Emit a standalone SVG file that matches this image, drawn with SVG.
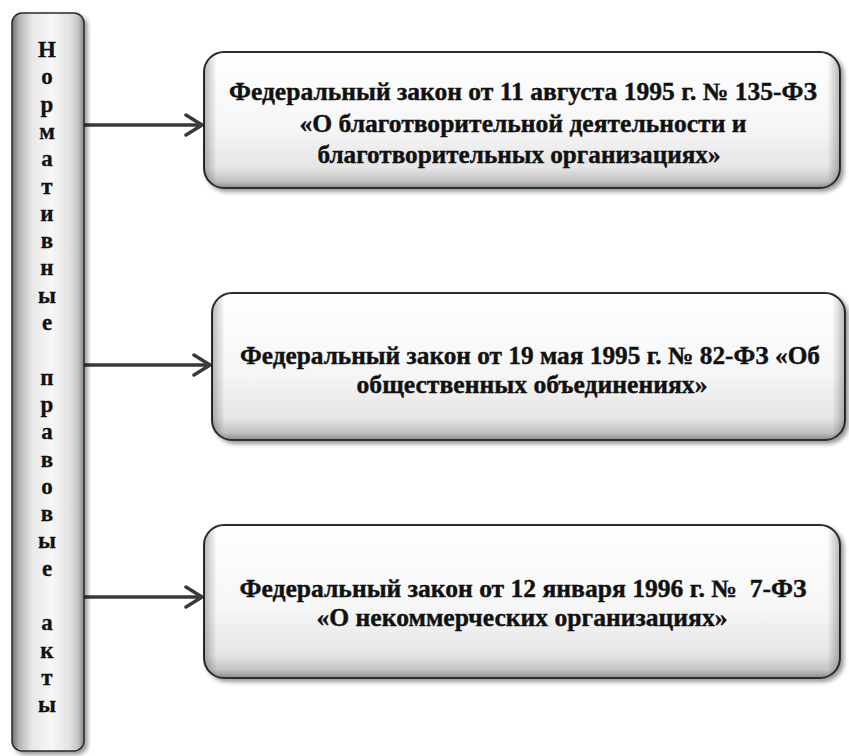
<svg xmlns="http://www.w3.org/2000/svg" width="849" height="756" viewBox="0 0 849 756">
  <defs>
    <linearGradient id="barFill" x1="0" y1="0" x2="1" y2="0">
      <stop offset="0" stop-color="#707070"/>
      <stop offset="0.1" stop-color="#b5b5b5"/>
      <stop offset="0.28" stop-color="#e8e8e8"/>
      <stop offset="0.55" stop-color="#f7f7f7"/>
      <stop offset="0.8" stop-color="#e2e2e2"/>
      <stop offset="0.92" stop-color="#c4c4c4"/>
      <stop offset="1" stop-color="#858585"/>
    </linearGradient>
    <linearGradient id="boxFill" x1="0" y1="0" x2="0" y2="1">
      <stop offset="0" stop-color="#ffffff"/>
      <stop offset="0.55" stop-color="#f6f6f6"/>
      <stop offset="0.85" stop-color="#e5e5e5"/>
      <stop offset="0.95" stop-color="#c2c2c2"/>
      <stop offset="1" stop-color="#8a8a8a"/>
    </linearGradient>
    <linearGradient id="boxSide" x1="0" y1="0" x2="1" y2="0">
      <stop offset="0" stop-color="#000" stop-opacity="0.28"/>
      <stop offset="0.02" stop-color="#000" stop-opacity="0"/>
      <stop offset="0.98" stop-color="#000" stop-opacity="0"/>
      <stop offset="1" stop-color="#000" stop-opacity="0.28"/>
    </linearGradient>
    <filter id="shadow" x="-5%" y="-10%" width="115%" height="130%">
      <feDropShadow dx="3" dy="3" stdDeviation="2" flood-color="#000" flood-opacity="0.4"/>
    </filter>
    <marker id="chev" viewBox="0 0 20 24" refX="18" refY="12" markerWidth="20" markerHeight="24" markerUnits="userSpaceOnUse" orient="auto">
      <path d="M2 2 L18 12 L2 22" fill="none" stroke="#3a3a3a" stroke-width="3.5" stroke-linecap="round" stroke-linejoin="round"/>
    </marker>
    <style>
      .box { fill: url(#boxFill); stroke: #2e2e2e; stroke-width: 2; filter: url(#shadow); }
      .side { fill: url(#boxSide); stroke: none; }
      .bar { fill: url(#barFill); stroke: #2a2a2a; stroke-width: 1.5; filter: url(#shadow); }
      .t { font-family: "Liberation Serif", "Times New Roman", serif; font-weight: bold; font-size: 25px; fill: #111; stroke: #111; stroke-width: 0.4; text-anchor: middle; }
      .v { font-family: "Liberation Serif", "Times New Roman", serif; font-weight: bold; font-size: 23px; fill: #111; stroke: #111; stroke-width: 0.3; text-anchor: middle; }
      .conn { stroke: #3a3a3a; stroke-width: 3.5; fill: none; marker-end: url(#chev); }
    </style>
  </defs>
  <rect width="849" height="756" fill="#ffffff"/>

  <g id="connectors">
    <line class="conn" x1="84" y1="125" x2="202" y2="125"/>
    <line class="conn" x1="84" y1="365" x2="210" y2="365"/>
    <line class="conn" x1="84" y1="597" x2="202" y2="597"/>
  </g>

  <g id="node-acts">
    <rect class="bar" x="12" y="13" width="72" height="738" rx="10" ry="10"/>
    <text class="v" x="47" y="57">Н</text>
    <text class="v" x="47" y="84.3">о</text>
    <text class="v" x="47" y="111.6">р</text>
    <text class="v" x="47" y="138.9">м</text>
    <text class="v" x="47" y="166.2">а</text>
    <text class="v" x="47" y="193.5">т</text>
    <text class="v" x="47" y="220.8">и</text>
    <text class="v" x="47" y="248.1">в</text>
    <text class="v" x="47" y="275.4">н</text>
    <text class="v" x="47" y="302.7">ы</text>
    <text class="v" x="47" y="330">е</text>
    <text class="v" x="47" y="384.6">п</text>
    <text class="v" x="47" y="411.9">р</text>
    <text class="v" x="47" y="439.2">а</text>
    <text class="v" x="47" y="466.5">в</text>
    <text class="v" x="47" y="493.8">о</text>
    <text class="v" x="47" y="521.1">в</text>
    <text class="v" x="47" y="548.4">ы</text>
    <text class="v" x="47" y="575.7">е</text>
    <text class="v" x="47" y="630.3">а</text>
    <text class="v" x="47" y="657.6">к</text>
    <text class="v" x="47" y="684.9">т</text>
    <text class="v" x="47" y="712.2">ы</text>
  </g>

  <g id="node-law135">
    <rect class="box" x="204" y="52" width="636" height="136" rx="20" ry="20"/>
    <rect class="side" x="204" y="52" width="636" height="136" rx="20" ry="20"/>
    <text class="t" x="523" y="100" textLength="588" lengthAdjust="spacingAndGlyphs">Федеральный закон от 11 августа 1995 г. № 135-ФЗ</text>
    <text class="t" x="523" y="132" textLength="447" lengthAdjust="spacingAndGlyphs">«О благотворительной деятельности и</text>
    <text class="t" x="519" y="163" textLength="403" lengthAdjust="spacingAndGlyphs">благотворительных организациях»</text>
  </g>

  <g id="node-law82">
    <rect class="box" x="212" y="293" width="633" height="147" rx="20" ry="20"/>
    <rect class="side" x="212" y="293" width="633" height="147" rx="20" ry="20"/>
    <text class="t" x="530" y="364" textLength="580" lengthAdjust="spacingAndGlyphs">Федеральный закон от 19 мая 1995 г. № 82-ФЗ «Об</text>
    <text class="t" x="532" y="393" textLength="351" lengthAdjust="spacingAndGlyphs">общественных объединениях»</text>
  </g>

  <g id="node-law7">
    <rect class="box" x="204" y="525" width="636" height="153" rx="20" ry="20"/>
    <rect class="side" x="204" y="525" width="636" height="153" rx="20" ry="20"/>
    <text class="t" x="523" y="597" textLength="567" lengthAdjust="spacingAndGlyphs">Федеральный закон от 12 января 1996 г. №&#160; 7-ФЗ</text>
    <text class="t" x="522" y="626" textLength="411" lengthAdjust="spacingAndGlyphs">«О некоммерческих организациях»</text>
  </g>
</svg>
